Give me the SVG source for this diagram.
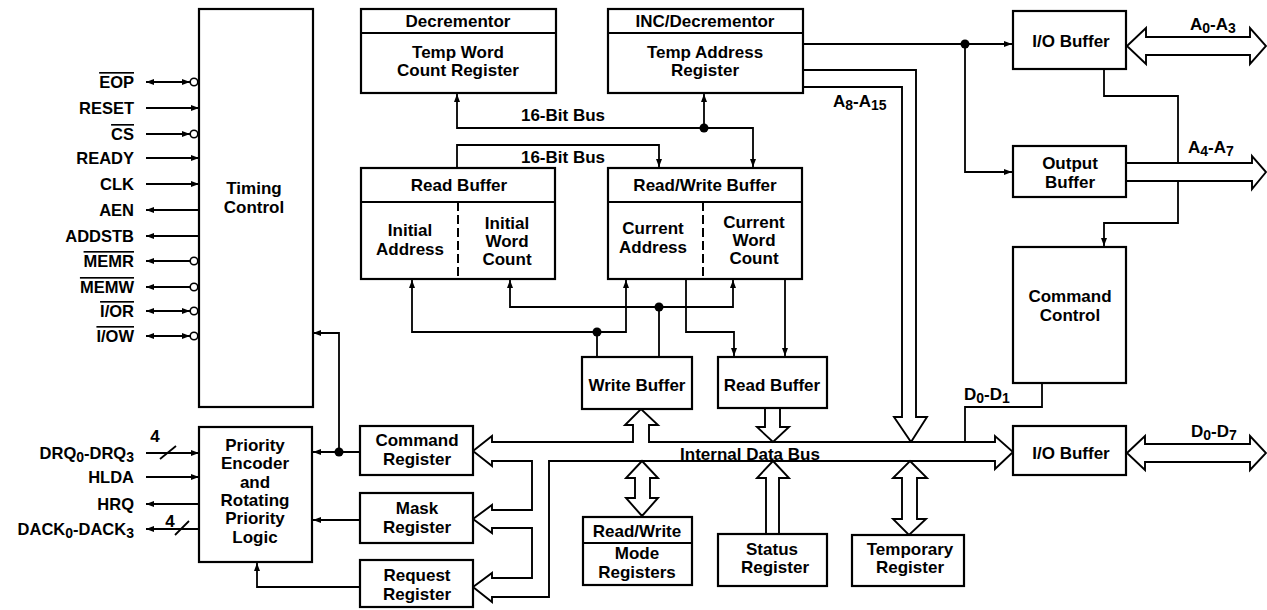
<svg xmlns="http://www.w3.org/2000/svg" width="1267" height="610" viewBox="0 0 1267 610">
<defs>
<style>
.box{fill:#fff;stroke:#000;stroke-width:2.2}
.div{stroke:#000;stroke-width:2;fill:none}
.dash{stroke:#000;stroke-width:2;fill:none;stroke-dasharray:9,4}
.ln{stroke:#000;stroke-width:1.8;fill:none}
.bus{fill:#fff;stroke:#000;stroke-width:1.9;stroke-linejoin:miter}
.t{font-family:"Liberation Sans",Arial,sans-serif;font-size:17px;font-weight:bold;fill:#000;text-anchor:middle}
.s{font-family:"Liberation Sans",Arial,sans-serif;font-size:16.5px;font-weight:bold;fill:#000;text-anchor:end}
.l{font-family:"Liberation Sans",Arial,sans-serif;font-size:17px;font-weight:bold;fill:#000;text-anchor:start}
.ov{text-decoration:overline}
.dot{fill:#000}
.inv{fill:#fff;stroke:#000;stroke-width:1.6}
</style>
<marker id="ah" viewBox="0 0 8 6" refX="8" refY="3" markerWidth="8" markerHeight="6" markerUnits="userSpaceOnUse" orient="auto-start-reverse">
<path d="M0,0 L8,3 L0,6 Z" fill="#000"/>
</marker>
</defs>
<rect x="0" y="0" width="1267" height="610" fill="#fff"/>

<g id="connectors">
<!-- timing control signals -->
<line class="ln" x1="146" y1="82" x2="190" y2="82" marker-start="url(#ah)" marker-end="url(#ah)"/>
<line class="ln" x1="146" y1="108" x2="199" y2="108" marker-end="url(#ah)"/>
<line class="ln" x1="146" y1="134" x2="190" y2="134" marker-end="url(#ah)"/>
<line class="ln" x1="146" y1="158" x2="199" y2="158" marker-end="url(#ah)"/>
<line class="ln" x1="146" y1="184" x2="199" y2="184" marker-end="url(#ah)"/>
<line class="ln" x1="146" y1="210" x2="199" y2="210" marker-start="url(#ah)"/>
<line class="ln" x1="146" y1="236" x2="199" y2="236" marker-start="url(#ah)"/>
<line class="ln" x1="146" y1="261" x2="190" y2="261" marker-start="url(#ah)"/>
<line class="ln" x1="146" y1="287" x2="190" y2="287" marker-start="url(#ah)"/>
<line class="ln" x1="146" y1="311" x2="190" y2="311" marker-start="url(#ah)" marker-end="url(#ah)"/>
<line class="ln" x1="146" y1="336" x2="190" y2="336" marker-start="url(#ah)" marker-end="url(#ah)"/>
<circle class="inv" cx="194" cy="82" r="3.8"/>
<circle class="inv" cx="194" cy="134" r="3.8"/>
<circle class="inv" cx="194" cy="261" r="3.8"/>
<circle class="inv" cx="194" cy="287" r="3.8"/>
<circle class="inv" cx="194" cy="311" r="3.8"/>
<circle class="inv" cx="194" cy="336" r="3.8"/>
<!-- priority signals -->
<line class="ln" x1="146" y1="453" x2="199" y2="453" marker-end="url(#ah)"/>
<line class="ln" x1="160" y1="459" x2="176" y2="446"/>
<line class="ln" x1="146" y1="477" x2="199" y2="477" marker-end="url(#ah)"/>
<line class="ln" x1="146" y1="504" x2="199" y2="504" marker-start="url(#ah)"/>
<line class="ln" x1="146" y1="529" x2="199" y2="529" marker-start="url(#ah)"/>
<line class="ln" x1="175" y1="535" x2="189" y2="521"/>
<!-- registers to priority / timing -->
<path class="ln" d="M360,452 H313" marker-end="url(#ah)"/>
<path class="ln" d="M339,452 V333 H313" marker-end="url(#ah)"/>
<circle class="dot" cx="339" cy="452" r="4.5"/>
<path class="ln" d="M360,520 H313" marker-end="url(#ah)"/>
<path class="ln" d="M360,587 H257 V563" marker-end="url(#ah)"/>
<!-- 16-bit buses -->
<path class="ln" d="M457,94 V128 H753 V167" marker-start="url(#ah)" marker-end="url(#ah)"/>
<path class="ln" d="M704,128 V94" marker-end="url(#ah)"/>
<circle class="dot" cx="704" cy="128" r="4.5"/>
<path class="ln" d="M457,167 V145 H659 V167" marker-end="url(#ah)"/>
<!-- buffer interconnect -->
<path class="ln" d="M412,280 V332 H626 V280" marker-start="url(#ah)" marker-end="url(#ah)"/>
<circle class="dot" cx="597" cy="332" r="4.5"/>
<path class="ln" d="M597,332 V357"/>
<path class="ln" d="M510,280 V307 H733 V280" marker-start="url(#ah)" marker-end="url(#ah)"/>
<circle class="dot" cx="659" cy="307" r="4.5"/>
<path class="ln" d="M659,307 V357"/>
<path class="ln" d="M686,279 V332 H734 V356" marker-end="url(#ah)"/>
<path class="ln" d="M785,279 V356" marker-end="url(#ah)"/>
<!-- address lines -->
<path class="ln" d="M803,44 H1012" marker-end="url(#ah)"/>
<path class="ln" d="M965,44 V172 H1012" marker-end="url(#ah)"/>
<circle class="dot" cx="965" cy="44" r="4.5"/>
<path class="ln" d="M1104,69 V96 H1178 V163"/>
<path class="ln" d="M1178,181 V223 H1104 V246" marker-end="url(#ah)"/>
<path class="ln" d="M1042,383 V407 H965 V442"/>
<!-- A8-A15 hollow bus -->
<path class="bus" d="M803,70 H916 V417 H927 L911,442 L894,417 H902 V87 H803"/>
<!-- internal data bus -->
<path class="bus" d="M492,442 H633 V425 H625 L641,409 L658,425 H649 V442 H995 V436 L1013,452 L995,469 V461 H549 V597 H492 V602 L473,587 L492,573 V578 H532 V528 H492 V533 L473,519 L492,505 V510 H532 V461 H492 V466 L473,451 L492,436 Z"/>
<path class="bus" d="M765,408 V427 H757 L773,442 L789,427 H780 V408"/>
<path class="bus" d="M642,461 L658,478 H650 V498 H658 L642,516 L626,498 H635 V478 H626 Z"/>
<path class="bus" d="M766,534 V478 H757 L773,461 L789,478 H779 V534"/>
<path class="bus" d="M910,461 L927,478 H917 V519 H926 L909,535 L893,519 H902 V478 H893 Z"/>
<!-- external buses -->
<path class="bus" d="M1127,46 L1146,28 V37 H1250 V28 L1266,46 L1250,64 V55 H1146 V64 Z"/>
<path class="bus" d="M1127,163 H1252 V156 L1266,172 L1252,189 V181 H1127"/>
<path class="bus" d="M1127,453 L1145,436 V444 H1250 V436 L1266,453 L1250,470 V462 H1145 V470 Z"/>
</g>

<g id="signal-labels">
<text class="s ov" x="134" y="88">EOP</text>
<text class="s" x="134" y="114">RESET</text>
<text class="s ov" x="134" y="140">CS</text>
<text class="s" x="134" y="164">READY</text>
<text class="s" x="134" y="190">CLK</text>
<text class="s" x="134" y="216">AEN</text>
<text class="s" x="134" y="242">ADDSTB</text>
<text class="s ov" x="134" y="267">MEMR</text>
<text class="s ov" x="134" y="293">MEMW</text>
<text class="s ov" x="134" y="317">I/OR</text>
<text class="s ov" x="134" y="342">I/OW</text>
<text class="s" x="134" y="459">DRQ<tspan font-size="14" dy="3">0</tspan><tspan dy="-3">-DRQ</tspan><tspan font-size="14" dy="3">3</tspan></text>
<text class="s" x="134" y="483">HLDA</text>
<text class="s" x="134" y="510">HRQ</text>
<text class="s" x="134" y="535">DACK<tspan font-size="14" dy="3">0</tspan><tspan dy="-3">-DACK</tspan><tspan font-size="14" dy="3">3</tspan></text>
<text class="t" x="155" y="442" font-size="15">4</text>
<text class="t" x="170" y="527" font-size="15">4</text>
<text class="l" x="833" y="107">A<tspan font-size="14" dy="3">8</tspan><tspan dy="-3">-A</tspan><tspan font-size="14" dy="3">15</tspan></text>
<text class="l" x="1190" y="30">A<tspan font-size="14" dy="3">0</tspan><tspan dy="-3">-A</tspan><tspan font-size="14" dy="3">3</tspan></text>
<text class="l" x="1188" y="153">A<tspan font-size="14" dy="3">4</tspan><tspan dy="-3">-A</tspan><tspan font-size="14" dy="3">7</tspan></text>
<text class="l" x="964" y="400">D<tspan font-size="14" dy="3">0</tspan><tspan dy="-3">-D</tspan><tspan font-size="14" dy="3">1</tspan></text>
<text class="l" x="1191" y="437">D<tspan font-size="14" dy="3">0</tspan><tspan dy="-3">-D</tspan><tspan font-size="14" dy="3">7</tspan></text>
<text class="t" x="563" y="121">16-Bit Bus</text>
<text class="t" x="563" y="163">16-Bit Bus</text>
<text class="t" x="750" y="460">Internal Data Bus</text>
</g>

<g id="timing-control">
<rect class="box" x="199" y="9" width="114" height="398"/>
<text class="t" x="254" y="194">Timing</text>
<text class="t" x="254" y="213">Control</text>
</g>
<g id="priority-encoder">
<rect class="box" x="199" y="427" width="113" height="135"/>
<text class="t" x="255" y="451">Priority</text>
<text class="t" x="255" y="469">Encoder</text>
<text class="t" x="255" y="488">and</text>
<text class="t" x="255" y="506">Rotating</text>
<text class="t" x="255" y="524">Priority</text>
<text class="t" x="255" y="543">Logic</text>
</g>
<g id="decrementor">
<rect class="box" x="361" y="9" width="195" height="84"/>
<line class="div" x1="361" y1="33" x2="556" y2="33"/>
<text class="t" x="458" y="27">Decrementor</text>
<text class="t" x="458" y="58">Temp Word</text>
<text class="t" x="458" y="76">Count Register</text>
</g>
<g id="inc-decrementor">
<rect class="box" x="608" y="9" width="195" height="84"/>
<line class="div" x1="608" y1="33" x2="803" y2="33"/>
<text class="t" x="705" y="27">INC/Decrementor</text>
<text class="t" x="705" y="58">Temp Address</text>
<text class="t" x="705" y="76">Register</text>
</g>
<g id="read-buffer-top">
<rect class="box" x="361" y="168" width="194" height="111"/>
<line class="div" x1="361" y1="202" x2="555" y2="202"/>
<line class="dash" x1="458" y1="202" x2="458" y2="279"/>
<text class="t" x="459" y="191">Read Buffer</text>
<text class="t" x="410" y="236">Initial</text>
<text class="t" x="410" y="255">Address</text>
<text class="t" x="507" y="229">Initial</text>
<text class="t" x="507" y="247">Word</text>
<text class="t" x="507" y="265">Count</text>
</g>
<g id="read-write-buffer">
<rect class="box" x="608" y="168" width="194" height="111"/>
<line class="div" x1="608" y1="202" x2="802" y2="202"/>
<line class="dash" x1="703" y1="202" x2="703" y2="279"/>
<text class="t" x="705" y="191">Read/Write Buffer</text>
<text class="t" x="653" y="234">Current</text>
<text class="t" x="653" y="253">Address</text>
<text class="t" x="754" y="228">Current</text>
<text class="t" x="754" y="246">Word</text>
<text class="t" x="754" y="264">Count</text>
</g>
<g id="write-buffer">
<rect class="box" x="582" y="357" width="110" height="52"/>
<text class="t" x="637" y="391">Write Buffer</text>
</g>
<g id="read-buffer-bottom">
<rect class="box" x="718" y="357" width="109" height="51"/>
<text class="t" x="772" y="391">Read Buffer</text>
</g>
<g id="mode-registers">
<rect class="box" x="583" y="517" width="109" height="68"/>
<line class="div" x1="583" y1="543" x2="692" y2="543"/>
<text class="t" x="637" y="537">Read/Write</text>
<text class="t" x="637" y="559">Mode</text>
<text class="t" x="637" y="578">Registers</text>
</g>
<g id="status-register">
<rect class="box" x="718" y="534" width="109" height="52"/>
<text class="t" x="772" y="555">Status</text>
<text class="t" x="775" y="573">Register</text>
</g>
<g id="temporary-register">
<rect class="box" x="852" y="535" width="112" height="51"/>
<text class="t" x="910" y="555">Temporary</text>
<text class="t" x="910" y="573">Register</text>
</g>
<g id="command-register">
<rect class="box" x="360" y="426" width="113" height="49"/>
<text class="t" x="417" y="446">Command</text>
<text class="t" x="417" y="465">Register</text>
</g>
<g id="mask-register">
<rect class="box" x="360" y="493" width="113" height="50"/>
<text class="t" x="417" y="514">Mask</text>
<text class="t" x="417" y="533">Register</text>
</g>
<g id="request-register">
<rect class="box" x="360" y="560" width="113" height="47"/>
<text class="t" x="417" y="581">Request</text>
<text class="t" x="417" y="600">Register</text>
</g>
<g id="io-buffer-address">
<rect class="box" x="1013" y="11" width="113" height="58"/>
<text class="t" x="1071" y="47">I/O Buffer</text>
</g>
<g id="output-buffer">
<rect class="box" x="1013" y="146" width="113" height="51"/>
<text class="t" x="1070" y="169">Output</text>
<text class="t" x="1070" y="188">Buffer</text>
</g>
<g id="command-control">
<rect class="box" x="1013" y="247" width="113" height="136"/>
<text class="t" x="1070" y="302">Command</text>
<text class="t" x="1070" y="321">Control</text>
</g>
<g id="io-buffer-data">
<rect class="box" x="1013" y="426" width="113" height="49"/>
<text class="t" x="1071" y="459">I/O Buffer</text>
</g>
</svg>
